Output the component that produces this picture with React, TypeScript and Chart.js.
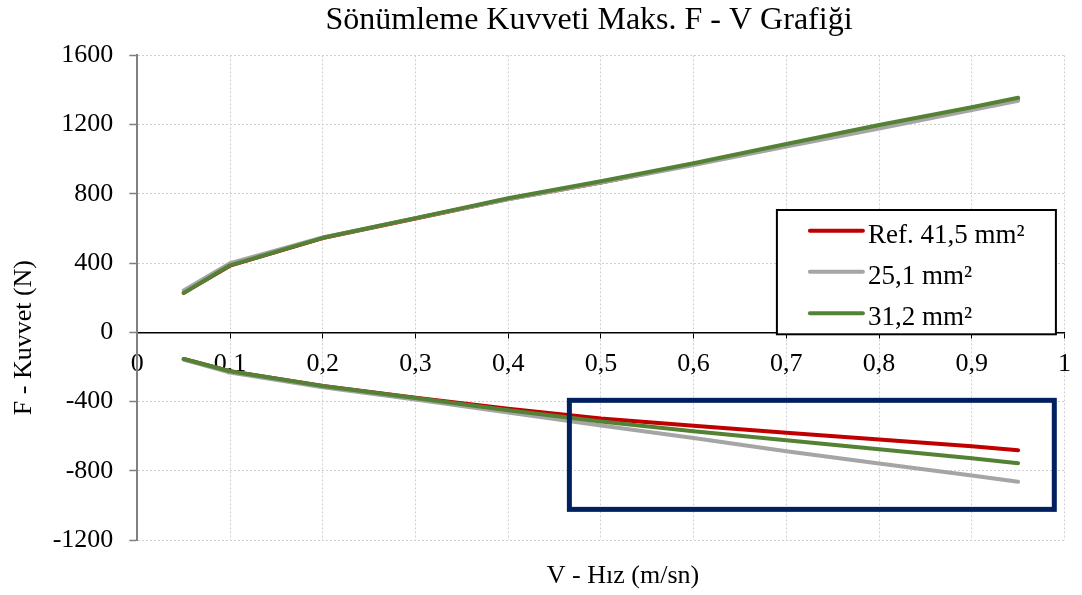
import React, { useEffect, useRef } from 'react';
import { Chart, registerables } from 'chart.js';

Chart.register(...registerables);

const TITLE = 'Sönümleme Kuvveti Maks. F - V Grafiği';
const X_TITLE = 'V - Hız (m/sn)';
const Y_TITLE = 'F - Kuvvet (N)';

const velocities = [0.05, 0.1, 0.2, 0.3, 0.4, 0.5, 0.6, 0.7, 0.8, 0.9, 0.95];

const seriesLabels = ['Ref. 41,5 mm²', '25,1 mm²', '31,2 mm²'];
const seriesColors = ['#C00000', '#A5A5A5', '#548235'];

// compression (positive) branch
const refUpper = [228, 385, 545, 658, 770, 865, 972, 1083, 1193, 1296, 1351];
const grayUpper = [242, 399, 548, 660, 768, 866, 966, 1073, 1178, 1284, 1338];
const greenUpper = [227, 387, 546, 660, 775, 873, 977, 1088, 1198, 1300, 1355];

// rebound (negative) branch
const refLower = [-154, -225, -310, -378, -442, -498, -540, -581, -619, -658, -681];
const grayLower = [-158, -232, -318, -388, -463, -538, -611, -687, -758, -827, -863];
const greenLower = [-154, -225, -310, -380, -450, -515, -571, -623, -676, -727, -756];

const xTicks = [0, 0.1, 0.2, 0.3, 0.4, 0.5, 0.6, 0.7, 0.8, 0.9, 1];
const xTickLabels = ['0', '0,1', '0,2', '0,3', '0,4', '0,5', '0,6', '0,7', '0,8', '0,9', '1'];
const yTicks = [-1200, -800, -400, 0, 400, 800, 1200, 1600];
const yTickLabels = ['-1200', '-800', '-400', '0', '400', '800', '1200', '1600'];

// highlighted region (data coordinates)
const highlightX = [0.466, 0.989];
const highlightY = [-393, -1023];

const FONT = '"Liberation Serif", "Times New Roman", serif';

const toPoints = (ys: number[]) => velocities.map((x, i) => ({ x, y: ys[i] }));

const overlayPlugin = {
  id: 'overlay',
  afterDatasetsDraw(chart: any) {
    const { ctx, scales } = chart;
    const xs = scales.x;
    const ys = scales.y;
    const x1 = xs.getPixelForValue(highlightX[0]);
    const x2 = xs.getPixelForValue(highlightX[1]);
    const y1 = ys.getPixelForValue(highlightY[0]);
    const y2 = ys.getPixelForValue(highlightY[1]);
    ctx.save();
    ctx.strokeStyle = '#002060';
    ctx.lineWidth = 5;
    ctx.strokeRect(x1, y1, x2 - x1, y2 - y1);
    ctx.restore();
  },
  afterDraw(chart: any) {
    const { ctx, chartArea } = chart;
    ctx.save();
    ctx.fillStyle = '#000';
    // title
    ctx.font = `32px ${FONT}`;
    ctx.textAlign = 'center';
    ctx.textBaseline = 'alphabetic';
    ctx.fillText(TITLE, 589, 29);
    // x title
    ctx.font = `26px ${FONT}`;
    ctx.fillText(X_TITLE, 623, 583);
    // y title
    ctx.save();
    ctx.translate(31, 337.6);
    ctx.rotate(-Math.PI / 2);
    ctx.fillText(Y_TITLE, 0, 0);
    ctx.restore();

    // legend
    const lx = chartArea.right - 287.6;
    const ly = 210;
    const lw = 279;
    const lh = 124.3;
    ctx.fillStyle = '#fff';
    ctx.fillRect(lx, ly, lw, lh);
    ctx.strokeStyle = '#000';
    ctx.lineWidth = 2;
    ctx.strokeRect(lx, ly, lw, lh);
    const rows = [230.7, 271.8, 313.2];
    ctx.font = `27px ${FONT}`;
    ctx.textAlign = 'left';
    seriesLabels.forEach((label, i) => {
      ctx.strokeStyle = seriesColors[i];
      ctx.lineWidth = 4;
      ctx.lineCap = 'round';
      ctx.beginPath();
      ctx.moveTo(lx + 33, rows[i]);
      ctx.lineTo(lx + 86, rows[i]);
      ctx.stroke();
      ctx.fillStyle = '#000';
      ctx.fillText(label, lx + 91, rows[i] + 12);
    });
    ctx.restore();
  },
};

export default function App() {
  const ref = useRef<HTMLCanvasElement | null>(null);
  useEffect(() => {
    if (!ref.current) return;
    const lineDs = (label: string, ys: number[], color: string, order: number) => ({
      label,
      data: toPoints(ys),
      borderColor: color,
      backgroundColor: color,
      borderWidth: 4,
      pointRadius: 0,
      tension: 0,
      borderCapStyle: 'round',
      borderJoinStyle: 'round',
      order,
      fill: false,
    });
    const chart = new Chart(ref.current, {
      type: 'line',
      data: {
        datasets: [
          lineDs(seriesLabels[0], refUpper, seriesColors[0], 2),
          lineDs(seriesLabels[0], refLower, seriesColors[0], 2),
          lineDs(seriesLabels[1], grayUpper, seriesColors[1], 1),
          lineDs(seriesLabels[1], grayLower, seriesColors[1], 1),
          lineDs(seriesLabels[2], greenUpper, seriesColors[2], 0),
          lineDs(seriesLabels[2], greenLower, seriesColors[2], 0),
        ] as any,
      },
      options: {
        animation: false,
        responsive: false,
        maintainAspectRatio: false,
        layout: { padding: { left: 0, top: 55.4, right: 11.7, bottom: 55 } },
        plugins: {
          legend: { display: false },
          title: { display: false },
          tooltip: { enabled: false },
        },
        scales: {
          x: {
            type: 'linear',
            position: { y: 0 } as any,
            min: 0,
            max: 1,
            afterBuildTicks: (scale: any) => {
              scale.ticks = xTicks.map((v) => ({ value: v }));
            },
            ticks: {
              autoSkip: false,
              maxRotation: 0,
              padding: 11,
              color: '#000',
              font: { family: FONT, size: 26 },
              callback: (_v: any, i: number) => xTickLabels[i],
            },
            grid: {
              color: '#d0d0d0',
              lineWidth: 1,
              tickLength: 5,
              tickColor: '#000',
              tickWidth: 1,
              tickBorderDash: [],
            },
            border: { display: true, color: '#000', width: 1.5, dash: [2, 2] },
          },
          y: {
            type: 'linear',
            min: -1200,
            max: 1600,
            afterBuildTicks: (scale: any) => {
              scale.ticks = yTicks.map((v) => ({ value: v }));
            },
            afterFit: (scale: any) => {
              scale.width = 137.3;
            },
            ticks: {
              padding: 16,
              color: '#000',
              font: { family: FONT, size: 26 },
              callback: (_v: any, i: number) => yTickLabels[i],
            },
            grid: {
              color: '#d0d0d0',
              lineWidth: 1,
              tickLength: 8,
              tickColor: '#808080',
              tickWidth: 1.5,
              tickBorderDash: [],
            },
            border: { display: true, color: '#808080', width: 2, dash: [2, 2] },
          },
        },
      },
      plugins: [overlayPlugin],
    });
    return () => chart.destroy();
  }, []);
  return (
    <div style={{ position: 'fixed', left: 0, top: 0, width: 1082, height: 595, background: '#fff' }}>
      <canvas ref={ref} width={1082} height={595} style={{ width: 1082, height: 595, display: 'block' }} />
    </div>
  );
}
